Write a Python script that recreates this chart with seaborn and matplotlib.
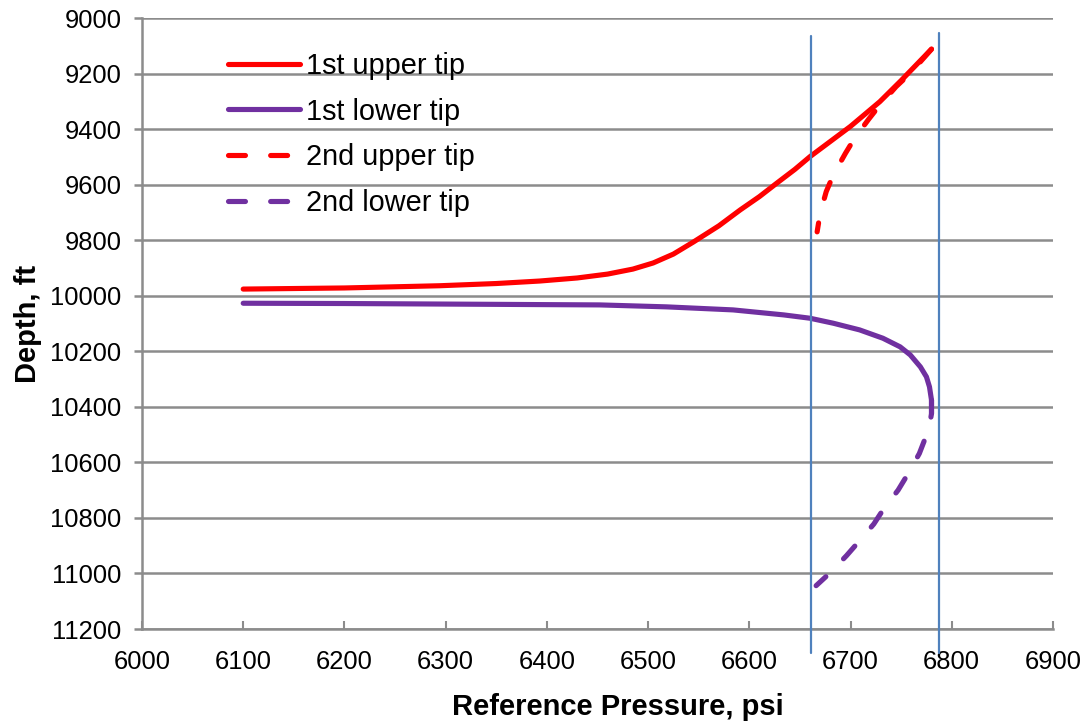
import numpy as np
import pandas as pd
import matplotlib
matplotlib.use("Agg")
import matplotlib.pyplot as plt
import seaborn as sns

# Fracture tip traces: reference pressure (psi) vs depth (ft)
upper1_p = [6100, 6200, 6294, 6350, 6393, 6430, 6460, 6485, 6505, 6525, 6545, 6570,
            6591, 6610, 6627, 6645, 6660, 6700, 6729, 6750, 6780]
upper1_d = [9976, 9972, 9964, 9956, 9947, 9936, 9922, 9904, 9882, 9850, 9806, 9748,
            9691, 9643, 9595, 9545, 9499, 9390, 9301, 9225, 9112]

lower1_p = [6100, 6200, 6300, 6400, 6452, 6518, 6584, 6634, 6660, 6683, 6709,
            6732, 6749, 6759, 6769, 6775, 6778, 6780, 6780]
lower1_d = [10027, 10028, 10030, 10032, 10033, 10040, 10051, 10069, 10081, 10099, 10123,
            10153, 10184, 10213, 10256, 10292, 10328, 10376, 10424]

upper2_p = [6780, 6759, 6745, 6729, 6718, 6704, 6695, 6683, 6676, 6670, 6667]
upper2_d = [9112, 9199, 9247, 9313, 9364, 9433, 9487, 9565, 9625, 9703, 9770]

lower2_p = [6780, 6780, 6778, 6775, 6768, 6757, 6747, 6733, 6723, 6708, 6696, 6680, 6666]
lower2_d = [10376, 10424, 10470, 10502, 10568, 10640, 10700, 10766, 10822, 10886, 10936, 10997, 11044]

series_names = ["1st upper tip", "1st lower tip", "2nd upper tip", "2nd lower tip"]

# Pressure bounds marked by vertical reference lines
bound_p = [6661, 6787]
bound_top = [9065, 9053]
bound_bottom = 11288

x_ticks = list(range(6000, 6901, 100))
y_ticks = list(range(9000, 11201, 200))

RED = "#FF0000"
PURPLE = "#7030A0"
BLUE = "#4F81BD"
GRID = "#8C8C8C"

sns.set_style("white")
plt.rcParams["font.family"] = ["Liberation Sans", "DejaVu Sans"]
plt.rcParams["text.color"] = "black"
plt.rcParams["axes.labelcolor"] = "black"
plt.rcParams["xtick.labelcolor"] = "black"
plt.rcParams["ytick.labelcolor"] = "black"

fig = plt.figure(figsize=(10.88, 7.27), dpi=100)
ax = fig.add_axes([0.1305, 0.1348, 0.8373, 0.8404])

frames = []
for name, p, d in [(series_names[0], upper1_p, upper1_d),
                   (series_names[1], lower1_p, lower1_d),
                   (series_names[2], upper2_p, upper2_d),
                   (series_names[3], lower2_p, lower2_d)]:
    frames.append(pd.DataFrame({"pressure": p, "depth": d, "series": name}))
data = pd.concat(frames, ignore_index=True)

lw = 3.7
dash = (0, (3.3, 4.9))
styles = {
    series_names[0]: dict(color=RED, linestyle="-"),
    series_names[1]: dict(color=PURPLE, linestyle="-"),
    series_names[2]: dict(color=RED, linestyle=dash),
    series_names[3]: dict(color=PURPLE, linestyle=dash),
}

handles = []
for name in series_names:
    sub = data[data["series"] == name]
    sns.lineplot(data=sub, x="pressure", y="depth", sort=False, estimator=None,
                 ax=ax, linewidth=lw, solid_capstyle="round",
                 dash_capstyle="round", solid_joinstyle="round", zorder=4,
                 **styles[name])
    handles.append(ax.lines[-1])

for bp, bt in zip(bound_p, bound_top):
    ax.plot([bp, bp], [bt, bound_bottom], color=BLUE, linewidth=1.6,
            clip_on=False, zorder=5)

ax.set_xlim(6000, 6900)
ax.set_ylim(11200, 9000)
ax.set_xticks(x_ticks)
ax.set_yticks(y_ticks)
ax.set_xticklabels([str(v) for v in x_ticks])
ax.set_yticklabels([str(v) for v in y_ticks])

ax.yaxis.grid(True, color=GRID, linewidth=1.8)
ax.xaxis.grid(False)
ax.set_axisbelow(True)

for side in ["top", "right"]:
    ax.spines[side].set_visible(False)
for side in ["left", "bottom"]:
    ax.spines[side].set_color(GRID)
    ax.spines[side].set_linewidth(1.8)

ax.tick_params(axis="y", direction="out", length=5.8, width=1.8, color=GRID,
               labelsize=18.4, labelcolor="black", pad=9, left=True)
ax.tick_params(axis="x", direction="in", length=5.8, width=1.5, color=GRID,
               labelsize=18.4, labelcolor="black", pad=15, bottom=True)

ax.set_xlabel("Reference Pressure, psi", fontsize=21, fontweight="bold", color="black")
ax.xaxis.set_label_coords(0.5 + 20 / 911, -0.104)
ax.set_ylabel("Depth, ft", fontsize=21, fontweight="bold", color="black", labelpad=6)

leg = ax.legend(handles, series_names, loc="upper left",
                bbox_to_anchor=(0.066, 0.987), frameon=False, fontsize=20.8,
                handlelength=2.5, handletextpad=0.2, labelspacing=0.61)
for h in leg.legend_handles:
    h.set_linewidth(lw)
for t in leg.get_texts():
    t.set_color("black")

fig.savefig("out.png", dpi=100)
